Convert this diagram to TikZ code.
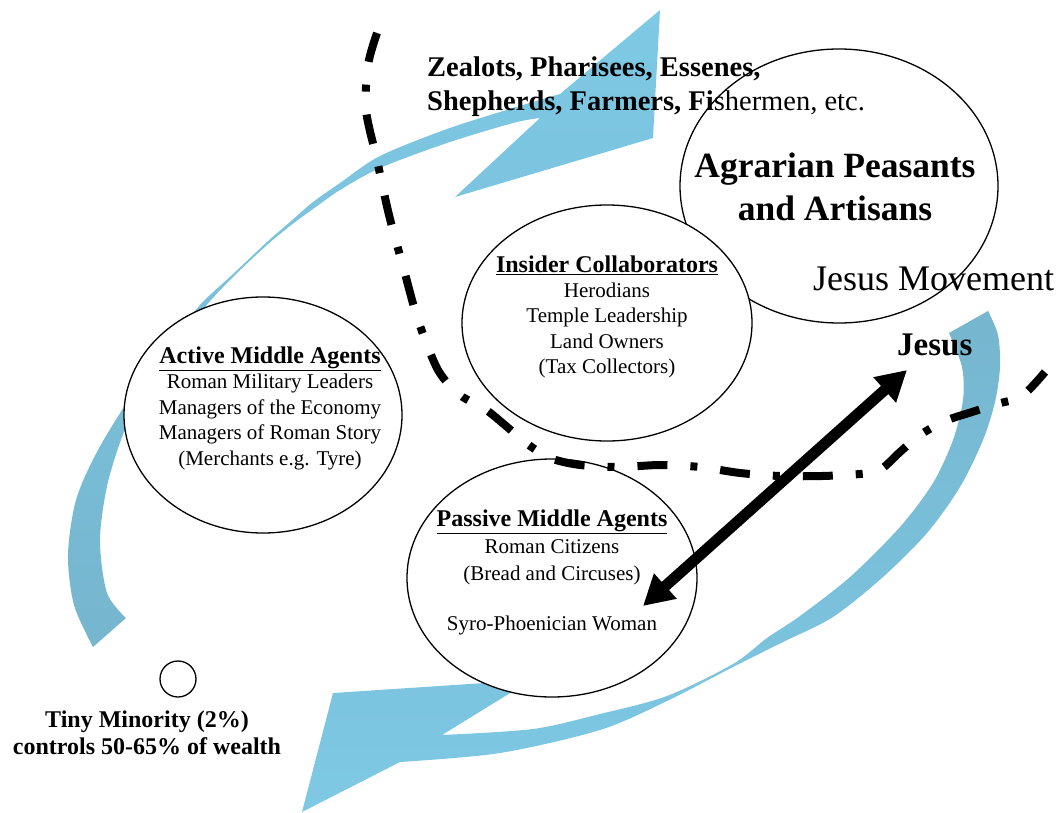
\documentclass[tikz,border=0pt]{standalone}
\usepackage{fontspec}
\setmainfont{Liberation Serif}
\usetikzlibrary{shapes.geometric, arrows.meta}
\definecolor{flowLight}{RGB}{126,201,229}
\definecolor{flowDark}{RGB}{118,182,206}
\newcommand{\fsz}[2]{\fontsize{#1}{#2}\selectfont}
\begin{document}
\begin{tikzpicture}[x=1pt, y=-1pt,
  ellbox/.style={ellipse, draw=black, line width=1.3pt, fill=white, inner sep=0pt},
  txt/.style={inner sep=0pt, align=center, text=black},
  boundary/.style={line width=8pt, dash pattern=on 30pt off 23pt on 7pt off 23pt},
  link/.style={line width=11pt, {Triangle[length=30pt,width=32pt]}-{Triangle[length=30pt,width=32pt]}}
]
\useasboundingbox (0,0) rectangle (1063,813);

% upper-left circulation arrow
\shade[top color=flowLight, bottom color=flowDark]
  (660,10) -- (653,138) -- (455,197) -- (540,118)
  -- plot[smooth, tension=0.5] coordinates {(540,118) (513,123) (447,143) (380,168) (340,190) (313,209) (290,226) (267,245) (233,277) (204,308) (160,362) (128,422) (108,482) (100,540) (107,593) (126,618)}
  -- (93,647)
  -- plot[smooth, tension=0.5] coordinates {(93,647) (74,605) (68,555) (76,500) (98,450) (135,390) (170,344) (200,305) (232,275) (267,242) (290,222) (313,202) (340,183) (380,156) (447,129) (513,108) (560,94)}
  -- cycle;

% lower-right circulation arrow
\shade[top color=flowDark, bottom color=flowLight]
  (988,311)
  -- plot[smooth] coordinates {(988,311) (998,335) (1000,367) (995,402) (983,440) (960,487) (927,533) (883,577) (833,617) (783,642) (733,667) (667,701) (600,730) (500,753) (400,762)}
  -- (302,812) -- (333,693) -- (500,682) -- (515,690) -- (442,735)
  -- plot[smooth] coordinates {(442,735) (533,729) (600,714) (667,696) (733,664) (767,638) (800,616) (850,577) (900,527) (933,483) (953,440) (963,400) (962,367) (949,333)}
  -- cycle;

% social groups
\node[ellbox, minimum width=318pt, minimum height=274pt] (agrE) at (839,186) {};
\node[ellbox, minimum width=290pt, minimum height=236pt] (insE) at (607,323) {};
\node[ellbox, minimum width=278pt, minimum height=236pt] (actE) at (263,415) {};
\node[ellbox, minimum width=290pt, minimum height=238pt] (pasE) at (552,578) {};
\node[circle, draw=black, line width=1.3pt, fill=white, minimum size=36pt, inner sep=0pt] (elite) at (178,679) {};

% texts
\node[txt, anchor=north west, align=left, font=\fsz{28.5}{34}] (sects) at (427,56.5)
  {\bfseries Zealots, Pharisees, Essenes,\\ \bfseries Shepherds, Farmers, Fi\mdseries shermen, etc.};
\node[txt, anchor=north, font=\fsz{35.5}{43}\bfseries] (agrT) at (835,153)
  {Agrarian Peasants\\and Artisans};
\node[txt, anchor=base west, font=\fsz{36}{40}] (move) at (813,290) {Jesus Movement};
\node[txt, anchor=base west, font=\fsz{33}{36}\bfseries] (jesus) at (897,355) {Jesus};

\node[txt, anchor=north, font=\fsz{21}{25.3}] (insT) at (607,255.4)
  {{\fsz{24}{25.3}\bfseries\underline{Insider Collaborators}}\\Herodians\\Temple Leadership\\Land Owners\\(Tax Collectors)};
\node[txt, anchor=north, font=\fsz{21}{25.5}] (actT) at (270,346.4)
  {{\fsz{24}{25.5}\bfseries\underline{Active Middle Agents}}\\Roman Military Leaders\\Managers of the Economy\\Managers of Roman Story\\(Merchants e.g. Tyre)};
\node[txt, anchor=north, font=\fsz{21}{27}] (pasT) at (552,509.4)
  {{\fsz{24}{27}\bfseries\underline{Passive Middle Agents}}\\Roman Citizens\\(Bread and Circuses)\\[23pt]Syro-Phoenician Woman};
\node[txt, anchor=north, font=\fsz{24}{27}\bfseries] (eliteT) at (147,710.4)
  {Tiny Minority (2\%)\\controls 50-65\% of wealth};

% dividing line between the groups
\draw[boundary] plot[smooth] coordinates {(377,33) (368,65) (366,110) (377,160) (389,215) (404,270) (418,320) (438,370) (460,395) (485,409) (506,426) (526,443) (550,458) (580,465) (620,467) (660,465) (700,467) (740,473) (780,476) (822,476) (860,474) (880,470) (900,452) (920,435) (945,421) (972,412) (997,404) (1022,396) (1045,372)};

% contact between Jesus and the woman
\coordinate (jesusTip) at (907,370);
\coordinate (womanTip) at (643,606);
\draw[link] (womanTip) -- (jesusTip);
\end{tikzpicture}
\end{document}
